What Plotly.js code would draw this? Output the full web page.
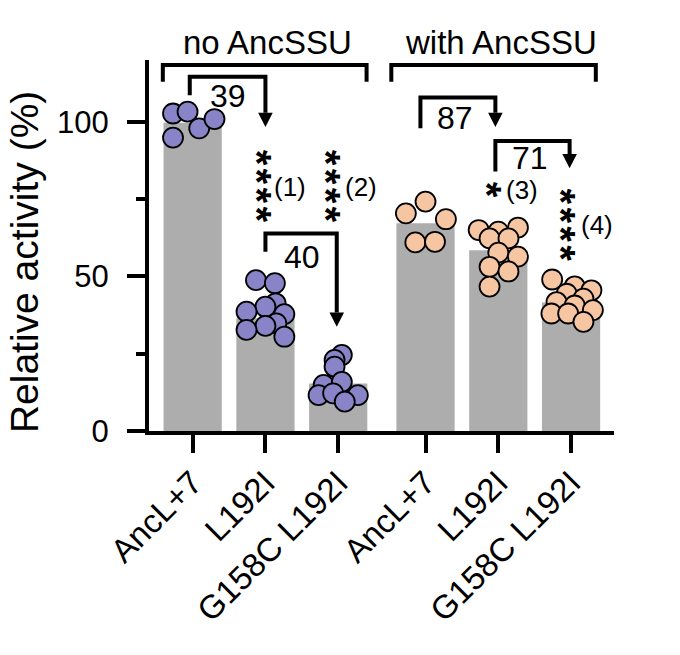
<!DOCTYPE html>
<html>
<head>
<meta charset="utf-8">
<script src="https://cdn.plot.ly/plotly-3.0.1.min.js"></script>
<style>body{margin:0;background:#fff}</style>
</head>
<body>
<div id="myDiv" style="width:680px;height:655px"></div>
<script>
var categories = ['AncL+7', 'L192I', 'G158C L192I', 'AncL+7', 'L192I', 'G158C L192I'];
var xPos = [0, 1, 2, 3.2, 4.2, 5.2];
var barValues = [99.7, 36.5, 15.4, 67.2, 58.5, 41.6];

// individual replicates (offset = horizontal jitter)
var ancNoY = [94.9, 102.7, 103.3, 97.9, 100.9];
var ancNoOff = [-0.27, -0.27, -0.07, 0.09, 0.3];
var l192NoY = [48.8, 47.8, 41.3, 40.2, 38.6, 37.8, 34.8, 34.0, 32.7, 30.5];
var l192NoOff = [-0.13, 0.13, 0.14, 0.0, -0.26, 0.26, 0.15, 0.0, -0.26, 0.26];
var dblNoY = [24.6, 23.0, 20.8, 14.9, 15.9, 11.6, 12.2, 11.6, 9.5];
var dblNoOff = [0.05, -0.05, -0.05, -0.2, 0.05, -0.27, -0.07, 0.27, 0.09];
var ancWithY = [74.2, 70.4, 68.5, 61.0, 61.2];
var ancWithOff = [0.0, -0.27, 0.28, -0.14, 0.13];
var l192WithY = [65.0, 64.5, 65.8, 62.3, 62.3, 57.7, 56.4, 53.1, 51.6, 46.7];
var l192WithOff = [-0.27, 0.0, 0.27, -0.12, 0.14, 0.0, 0.27, -0.12, 0.14, -0.12];
var dblWithY = [49.0, 46.8, 45.5, 44.4, 42.8, 41.7, 40.6, 39.1, 38.0, 38.0, 35.3];
var dblWithOff = [-0.26, 0.05, 0.28, -0.06, 0.17, -0.2, 0.05, 0.3, -0.27, -0.04, 0.17];

var foldLabels = ['39', '40', '87', '71'];
var sigStars = ['****', '****', '*', '****'];
var sigLabels = ['(1)', '(2)', '(3)', '(4)'];
var groupLabels = ['no AncSSU', 'with AncSSU'];

var FONT = 'Liberation Sans, Arial, Helvetica, sans-serif';
var purple = '#8884C7';
var peach = '#F6C5A1';

function dots(i, ys, offs, color) {
  return {
    x: offs.map(function (o) { return xPos[i] + o; }),
    y: ys,
    type: 'scatter',
    mode: 'markers',
    hoverinfo: 'skip',
    marker: {size: 20, color: color, line: {color: '#000', width: 1.8}}
  };
}

var bars = {
  x: xPos,
  y: barValues,
  type: 'bar',
  width: 0.8,
  hoverinfo: 'skip',
  marker: {color: '#ADADAE', line: {width: 0}}
};

var data = [
  bars,
  dots(0, ancNoY, ancNoOff, purple),
  dots(1, l192NoY, l192NoOff, purple),
  dots(2, dblNoY, dblNoOff, purple),
  dots(3, ancWithY, ancWithOff, peach),
  dots(4, l192WithY, l192WithOff, peach),
  dots(5, dblWithY, dblWithOff, peach)
];

// bracket with arrow: from bar a to bar b
var HW = 0.1, AH = 4.6;
var shapes = [];
var annotations = [];
function arrowBracket(xa, xb, yLeft, yTop, yTip) {
  shapes.push({type: 'path', xref: 'x', yref: 'y',
    path: 'M' + xa + ',' + yLeft + ' L' + xa + ',' + yTop + ' L' + xb + ',' + yTop + ' L' + xb + ',' + (yTip + AH),
    line: {color: '#000', width: 4}});
  shapes.push({type: 'path', xref: 'x', yref: 'y',
    path: 'M' + (xb - HW) + ',' + (yTip + AH) + ' L' + (xb + HW) + ',' + (yTip + AH) + ' L' + xb + ',' + yTip + ' Z',
    fillcolor: '#000', line: {width: 0}});
}
function groupBracket(xa, xb) {
  shapes.push({type: 'path', xref: 'x', yref: 'y',
    path: 'M' + xa + ',113 L' + xa + ',118.4 L' + xb + ',118.4 L' + xb + ',113',
    line: {color: '#000', width: 4}});
}
function txt(x, y, t, size, extra) {
  var a = {x: x, y: y, xref: 'x', yref: 'y', text: t, showarrow: false,
    font: {family: FONT, size: size, color: '#000'}, xanchor: 'center', yanchor: 'middle'};
  for (var k in extra) a[k] = extra[k];
  annotations.push(a);
}
// stars are set as vertical (rotated) text, like the original figure
function stars(x, y, s) {
  txt(x, y, s.split('').join('\u200A'), 40, {textangle: 90, xshift: -9});
  annotations[annotations.length - 1].font.weight = 'bold';
}

groupBracket(xPos[0] - 0.41, xPos[2] + 0.39);
groupBracket(xPos[3] - 0.47, xPos[5] + 0.34);
arrowBracket(xPos[0] - 0.04, xPos[1], 108.6, 114.6, 98.3);
arrowBracket(xPos[1], xPos[2] - 0.02, 58.0, 63.9, 33.7);
arrowBracket(xPos[3] - 0.07, xPos[4] - 0.04, 97.9, 107.9, 98.3);
arrowBracket(xPos[4] - 0.04, xPos[5] - 0.02, 83.9, 93.8, 85.0);

txt(0.49, 108.3, foldLabels[0], 32);
txt(1.5, 56.4, foldLabels[1], 32);
txt(3.6, 101.1, foldLabels[2], 32);
txt(4.64, 88.2, foldLabels[3], 32);

stars(xPos[1], 79.2, sigStars[0]);
stars(xPos[2] - 0.04, 79.2, sigStars[1]);
stars(xPos[4] - 0.04, 77.9, sigStars[2]);
stars(xPos[5] - 0.02, 66.6, sigStars[3]);
txt(1.34, 79.0, sigLabels[0], 26);
txt(2.31, 79.0, sigLabels[1], 26);
txt(4.52, 77.9, sigLabels[2], 26);
txt(5.56, 66.6, sigLabels[3], 26);

annotations.push({x: 1.035, y: 1.046, xref: 'x', yref: 'paper', text: groupLabels[0], showarrow: false,
  font: {family: FONT, size: 33, color: '#000'}, xanchor: 'center', yanchor: 'middle'});
annotations.push({x: 4.24, y: 1.046, xref: 'x', yref: 'paper', text: groupLabels[1], showarrow: false,
  font: {family: FONT, size: 33, color: '#000'}, xanchor: 'center', yanchor: 'middle'});
annotations.push({x: -0.269, y: 0.455, xref: 'paper', yref: 'paper', text: 'Relative activity (%)', showarrow: false,
  textangle: -90, font: {family: FONT, size: 39, color: '#000'}, xanchor: 'center', yanchor: 'middle'});

var layout = {
  width: 680,
  height: 655,
  margin: {l: 149, r: 66, t: 60, b: 224},
  paper_bgcolor: '#fff',
  plot_bgcolor: '#fff',
  showlegend: false,
  font: {family: FONT, color: '#000'},
  xaxis: {
    range: [-0.6, 5.79],
    tickvals: xPos,
    ticktext: categories,
    tickangle: -45,
    ticks: 'outside',
    ticklen: 18,
    tickwidth: 4,
    tickcolor: '#000',
    showline: true,
    linewidth: 4,
    linecolor: '#000',
    showgrid: false,
    zeroline: false,
    ticklabelstandoff: -3,
    tickfont: {family: FONT, size: 33, color: '#000'}
  },
  yaxis: {
    range: [0, 120],
    tickvals: [0, 50, 100],
    ticks: 'outside',
    ticklen: 18,
    tickwidth: 4,
    tickcolor: '#000',
    minor: {tickvals: [25, 75], ticks: 'outside', ticklen: 9, tickwidth: 4, tickcolor: '#000'},
    showline: true,
    linewidth: 4,
    linecolor: '#000',
    showgrid: false,
    zeroline: false,
    ticklabelstandoff: 12,
    tickfont: {family: FONT, size: 31, color: '#000'}
  },
  shapes: shapes,
  annotations: annotations
};

Plotly.newPlot('myDiv', data, layout, {staticPlot: true});
</script>
</body>
</html>
